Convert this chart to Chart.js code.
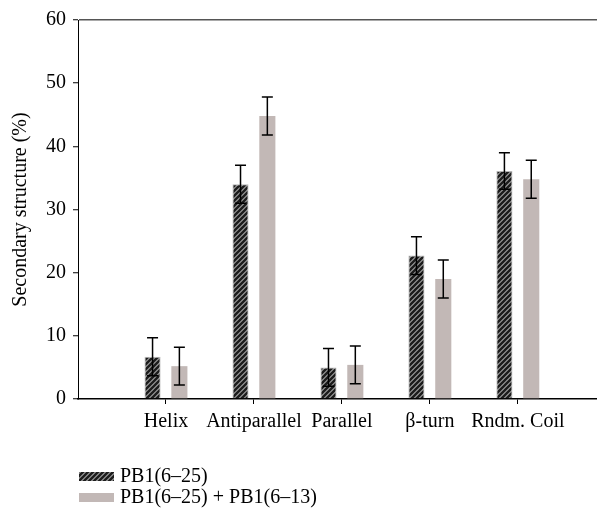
<!DOCTYPE html>
<html lang="en">
<head>
  <meta charset="UTF-8">
  <title>Secondary structure</title>
  <script src="https://cdn.jsdelivr.net/npm/chart.js"></script>
  <style>
    html, body { margin: 0; padding: 0; background: #fff; }
    #wrap { width: 597px; height: 508px; }
  </style>
</head>
<body>
  <div id="wrap"><canvas id="ssChart"></canvas></div>

  <script>
    // values
    const categories = ['Helix', 'Antiparallel', 'Parallel', 'β-turn', 'Rndm. Coil'];
    const seriesNames = ['PB1(6–25)', 'PB1(6–25) + PB1(6–13)'];
    const pb1Long = [6.7, 34.0, 5.0, 22.7, 36.1];
    const pb1LongErr = [3.0, 3.0, 3.0, 3.0, 2.9];
    const pb1Mix = [5.2, 44.8, 5.4, 19.0, 34.8];
    const pb1MixErr = [3.0, 3.0, 3.0, 3.0, 3.0];
    const yTicks = [0, 10, 20, 30, 40, 50, 60];

    const font = { family: '"Liberation Serif", serif', size: 20 };

    // dark hatched fill (/// stripes)
    function makeHatch() {
      const c = document.createElement('canvas');
      c.width = 5; c.height = 5;
      const g = c.getContext('2d');
      g.fillStyle = '#a0a0a0';
      g.fillRect(0, 0, 5, 5);
      g.strokeStyle = '#1c1c1c';
      g.lineWidth = 2.4;
      g.beginPath();
      for (let k = -1; k <= 1; k++) {
        g.moveTo(k * 5 - 1, 6);
        g.lineTo(k * 5 + 6, -1);
      }
      g.stroke();
      return g.createPattern(c, 'repeat');
    }
    const hatch = makeHatch();

    // error bars drawn from each bar element
    const errorBars = {
      id: 'errorBars',
      afterDatasetsDraw(chart) {
        const ctx = chart.ctx;
        const yScale = chart.scales.y;
        ctx.save();
        ctx.strokeStyle = '#000';
        ctx.lineWidth = 1.5;
        chart.data.datasets.forEach((ds, d) => {
          chart.getDatasetMeta(d).data.forEach((el, i) => {
            const v = ds.data[i].y, e = ds.errors[i];
            const top = yScale.getPixelForValue(v + e);
            const bot = yScale.getPixelForValue(v - e);
            ctx.beginPath();
            ctx.moveTo(el.x, top); ctx.lineTo(el.x, bot);
            ctx.moveTo(el.x - 5.5, top); ctx.lineTo(el.x + 5.5, top);
            ctx.moveTo(el.x - 5.5, bot); ctx.lineTo(el.x + 5.5, bot);
            ctx.stroke();
          });
        });
        ctx.restore();
      }
    };

    // stacked legend under the axis
    const stackedLegend = {
      id: 'stackedLegend',
      afterDraw(chart) {
        const ctx = chart.ctx;
        const left = chart.chartArea.left + 1;
        let y = chart.chartArea.bottom + 77.5;
        ctx.save();
        ctx.font = font.size + 'px ' + font.family;
        ctx.textBaseline = 'middle';
        chart.data.datasets.forEach(ds => {
          ctx.fillStyle = ds.backgroundColor;
          ctx.fillRect(left, y - 4.5, 35, 9);
          ctx.fillStyle = '#000';
          ctx.fillText(ds.label, left + 41, y);
          y += 21;
        });
        ctx.restore();
      }
    };

    new Chart(document.getElementById('ssChart'), {
      type: 'bar',
      data: {
        datasets: [
          {
            label: seriesNames[0],
            data: categories.map((c, i) => ({ x: i + 1, y: pb1Long[i] })),
            errors: pb1LongErr,
            backgroundColor: hatch,
            borderColor: '#b5b5b5',
            borderWidth: 1
          },
          {
            label: seriesNames[1],
            data: categories.map((c, i) => ({ x: i + 1, y: pb1Mix[i] })),
            errors: pb1MixErr,
            backgroundColor: '#c2b8b6',
            borderWidth: 0
          }
        ]
      },
      options: {
        responsive: true,
        maintainAspectRatio: false,
        animation: false,
        categoryPercentage: 0.61,
        barPercentage: 0.6,
        layout: { padding: { top: 20, right: 0, bottom: 0, left: 0 } },
        plugins: { legend: { display: false }, tooltip: { enabled: false } },
        scales: {
          x: {
            type: 'linear',
            min: 0,
            max: 5.9,
            offset: false,
            afterBuildTicks: axis => { axis.ticks = categories.map((c, i) => ({ value: i + 1 })); },
            afterFit: axis => { axis.height = 109; },
            ticks: {
              callback: v => categories[v - 1],
              font: font, color: '#000', padding: 6,
              autoSkip: false, maxRotation: 0
            },
            grid: { offset: false, drawOnChartArea: false, tickLength: 5, tickColor: '#000' },
            border: { color: '#000', width: 1.5 }
          },
          y: {
            min: 0,
            max: 60,
            afterBuildTicks: axis => { axis.ticks = yTicks.map(v => ({ value: v })); },
            afterFit: axis => { axis.width = 78; },
            ticks: { font: font, color: '#000', padding: 7 },
            grid: {
              color: c => (c.tick && c.tick.value === 60 ? '#555' : 'rgba(0,0,0,0)'),
              lineWidth: 1.5,
              tickLength: 5,
              tickColor: '#000',
              tickWidth: 1
            },
            border: { color: '#000', width: 1 },
            title: {
              display: true,
              text: 'Secondary structure (%)',
              font: font, color: '#000',
              padding: { top: 9, bottom: 0 }
            }
          }
        }
      },
      plugins: [errorBars, stackedLegend]
    });
  </script>
</body>
</html>
